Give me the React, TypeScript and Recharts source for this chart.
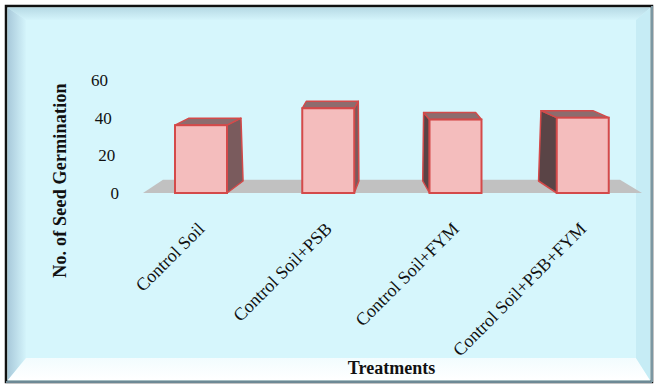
import { BarChart, Bar, XAxis, YAxis, ReferenceArea, Label } from 'recharts'

const treatments = ['Control Soil', 'Control Soil+PSB', 'Control Soil+FYM', 'Control Soil+PSB+FYM']
const germination = [36, 45, 39, 40]
const yTicks = [0, 20, 40, 60]

const chartData = treatments.map((name, i) => ({ name, value: germination[i] }))

const FONT = '"Liberation Serif", "Times New Roman", serif'
const VANISH_X = 380

// 3D box: front face, top face and one side face toward the vanishing point
const Box3D = (props: any) => {
  const { x, y, width, height } = props
  if (!height) return null
  const cx = x + width / 2
  const dxT = (VANISH_X - cx) * 0.078
  const dxB = dxT * 1.15
  const dyT = -7
  const dyB = -12
  const x0 = x
  const x1 = x + width
  const yT = y
  const yB = y + height
  const sx = dxT > 0 ? x1 : x0
  const side = `${sx},${yT} ${sx + dxT},${yT + dyT} ${sx + dxB},${yB + dyB} ${sx},${yB}`
  const top = `${x0},${yT} ${x0 + dxT},${yT + dyT} ${x1 + dxT},${yT + dyT} ${x1},${yT}`
  const sideColor = dxT > 0 ? '#7a5b5d' : '#5a4446'
  return (
    <g>
      <polygon points={side} fill={sideColor} stroke="#d44a4a" strokeWidth={1.5} strokeLinejoin="round" />
      <polygon points={top} fill="#8d6c6e" stroke="#d44a4a" strokeWidth={1.5} strokeLinejoin="round" />
      <rect x={x0} y={yT} width={width} height={height} fill="#f4bdbd" stroke="#d44a4a" strokeWidth={2} />
    </g>
  )
}

const Floor = (props: any) => {
  const { x, y, width, height } = props
  const pts = `${x + 6},${y + height} ${x + width - 4},${y + height} ${x + width - 26},${y} ${x + 26},${y}`
  return <polygon points={pts} fill="#c1c1c1" />
}

const YTick = (props: any) => {
  const { x, y, payload } = props
  const shift = -(payload.value / 60) * 11
  return (
    <text x={x + shift} y={y} dy="0.35em" textAnchor="end" fontFamily={FONT} fontSize={17} fill="#111">
      {payload.value}
    </text>
  )
}

const XTick = (props: any) => {
  const { x, y, payload } = props
  return (
    <text
      x={x + 5}
      y={y}
      textAnchor="end"
      transform={`rotate(-45, ${x + 5}, ${y})`}
      fontFamily={FONT}
      fontSize={18}
      fill="#111"
    >
      {payload.value}
    </text>
  )
}

const YLabel = (props: any) => {
  const { viewBox } = props
  const lx = viewBox.x - 47
  const ly = viewBox.y + viewBox.height / 2 + 44
  return (
    <text
      x={lx}
      y={ly}
      dy="0.35em"
      textAnchor="middle"
      transform={`rotate(-90, ${lx}, ${ly})`}
      fontFamily={FONT}
      fontSize={18}
      fontWeight="bold"
      letterSpacing={0.2}
      fill="#111"
    >
      No. of Seed Germination
    </text>
  )
}

function Frame() {
  return (
    <svg width={657} height={385} style={{ position: 'absolute', left: 0, top: 0 }}>
      <defs>
        <linearGradient id="leftBevel" x1="0" y1="0" x2="1" y2="0">
          <stop offset="0%" stopColor="#a9cadb" />
          <stop offset="100%" stopColor="#d4f4fb" />
        </linearGradient>
        <linearGradient id="topBevel" x1="0" y1="0" x2="0" y2="1">
          <stop offset="0%" stopColor="#b8dbe6" />
          <stop offset="100%" stopColor="#d4f4fb" />
        </linearGradient>
        <linearGradient id="bottomBevel" x1="0" y1="0" x2="0" y2="1">
          <stop offset="0%" stopColor="#f2fcfe" />
          <stop offset="100%" stopColor="#ffffff" />
        </linearGradient>
      </defs>
      <rect x={0} y={0} width={657} height={385} fill="#ffffff" />
      <rect x={6} y={6} width={646} height={376} fill="#d6f6fc" stroke="#111" strokeWidth={2.5} />
      <polygon points="8,8 650,8 636,20 26,20" fill="url(#topBevel)" />
      <polygon points="8,8 26,20 26,358 8,380" fill="url(#leftBevel)" />
      <polygon points="8,380 650,380 636,358 26,358" fill="url(#bottomBevel)" />
      <polygon points="650,8 650,380 636,358 636,20" fill="#c6ecf5" />
      <line x1={6} y1={382} x2={652} y2={382} stroke="#6d8995" strokeWidth={2} />
      <line x1={652} y1={6} x2={652} y2={382} stroke="#7c97a2" strokeWidth={2} />
    </svg>
  )
}

export default function App() {
  return (
    <div style={{ position: 'absolute', left: 0, top: 0, width: 657, height: 385 }}>
      <Frame />
      <div style={{ position: 'absolute', left: 0, top: 0 }}>
        <BarChart
          width={657}
          height={385}
          data={chartData}
          margin={{ top: 80, right: 11, left: 107, bottom: 7 }}
        >
          <XAxis
            dataKey="name"
            height={185}
            axisLine={false}
            tickLine={false}
            tickMargin={31}
            interval={0}
            tick={<XTick />}
          >
            <Label
              value="Treatments"
              position="insideBottom"
              offset={4}
              style={{ fontFamily: FONT, fontSize: 18, fontWeight: 'bold', fill: '#111' }}
            />
          </XAxis>
          <YAxis
            width={30}
            domain={[0, 60]}
            ticks={yTicks}
            axisLine={false}
            tickLine={false}
            tickMargin={12}
            tick={<YTick />}
            label={<YLabel />}
          />
          <ReferenceArea y1={0} y2={7} shape={<Floor />} ifOverflow="visible" />
          <Bar dataKey="value" barSize={52} shape={<Box3D />} isAnimationActive={false} />
        </BarChart>
      </div>
    </div>
  )
}
